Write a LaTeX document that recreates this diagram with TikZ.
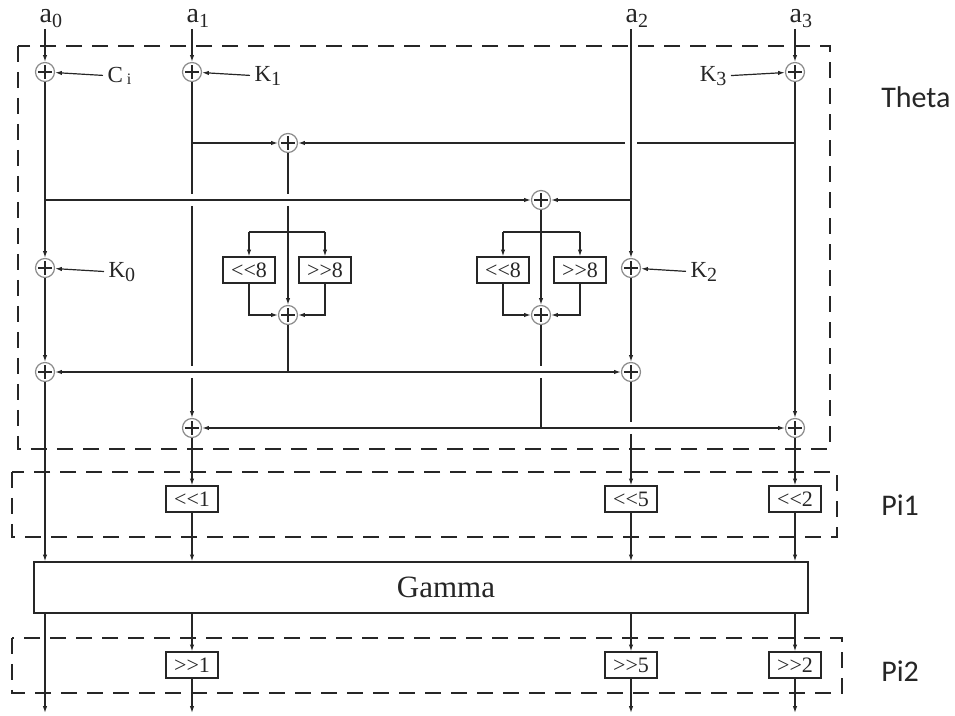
\documentclass[tikz,border=0pt]{standalone}
\usepackage{fontspec}
\setmainfont{Liberation Serif}
\newfontfamily\sidefont{Carlito}
\usetikzlibrary{arrows.meta,calc}
\newcommand{\lowsub}[2]{\raisebox{-#1}{\fontsize{10}{10}\selectfont #2}}

\begin{document}
\begin{tikzpicture}[
    x=0.5pt,y=-0.5pt,
    line width=0.6pt, color=black!85,
    a/.style={-{Latex[length=3.4pt,width=2.2pt]}},
    xor/.style={circle, draw=black!45, minimum size=9.5pt, inner sep=0pt,
      path picture={\draw[black!85, line width=0.6pt]
        (path picture bounding box.center) ++(-3.6pt,0) -- ++(7.2pt,0)
        (path picture bounding box.center) ++(0,-3.6pt) -- ++(0,7.2pt);}},
    sbox/.style={draw, minimum width=26pt, minimum height=13pt, inner sep=1pt,
                 font=\fontsize{11}{12}\selectfont},
    klab/.style={font=\fontsize{11.5}{12}\selectfont, inner sep=2pt},
    toplab/.style={font=\fontsize{14}{15}\selectfont, inner sep=0pt, anchor=base west},
    side/.style={font=\sidefont\fontsize{15}{17}\selectfont, anchor=west},
    frm/.style={dash pattern=on 8pt off 5pt}
]
\useasboundingbox (0,0) rectangle (955,716);

% Inputs
\node[toplab] (la0) at (39,23) {a\lowsub{2.5pt}{0}};
\node[toplab] (la1) at (186,23) {a\lowsub{2.5pt}{1}};
\node[toplab] (la2) at (625,23) {a\lowsub{2.5pt}{2}};
\node[toplab] (la3) at (789,23) {a\lowsub{2.5pt}{3}};
\coordinate (t0) at (45,29);
\coordinate (t1) at (192,29);
\coordinate (t2) at (631,29);
\coordinate (t3) at (795,29);

% Theta: xor nodes
\node[xor] (x0a) at (45,72) {};
\node[xor] (x1a) at (192,72) {};
\node[xor] (x3a) at (795,72) {};
\node[xor] (xm1) at (288,143) {};
\node[xor] (xm2) at (541,200) {};
\node[xor] (x0b) at (45,268) {};
\node[xor] (x2b) at (631,268) {};
\node[xor] (xs1) at (288,315) {};
\node[xor] (xs2) at (541,315) {};
\node[xor] (x0c) at (45,372) {};
\node[xor] (x2c) at (631,372) {};
\node[xor] (x1c) at (192,428) {};
\node[xor] (x3c) at (795,428) {};

% Keys
\node[klab, anchor=base west] (kc) at (103,83) {C\,\raisebox{-1pt}{\fontsize{8}{8}\selectfont i}};
\node[klab, anchor=base west] (k1) at (250,82) {K\lowsub{2pt}{1}};
\node[klab, anchor=base east] (k3) at (731,82) {K\lowsub{2pt}{3}};
\node[klab, anchor=base west] (k0) at (104,278) {K\lowsub{2pt}{0}};
\node[klab, anchor=base west] (k2) at (686,278) {K\lowsub{2pt}{2}};

% Rotations
\node[sbox] (sl1) at (249,270) {<{}<8};
\node[sbox] (sr1) at (325,270) {>{}>8};
\node[sbox] (sl2) at (503,270) {<{}<8};
\node[sbox] (sr2) at (580,270) {>{}>8};

% Junctions and crossings
\coordinate (h1) at (192,143);
\coordinate (h3) at (795,143);
\coordinate (g5) at (631,143);
\coordinate (h0) at (45,200);
\coordinate (h2) at (631,200);
\coordinate (g1a) at (192,200);
\coordinate (g2) at (288,200);
\coordinate (b1l) at (249,232);
\coordinate (b1r) at (325,232);
\coordinate (b2l) at (503,232);
\coordinate (b2r) at (580,232);
\coordinate (j1) at (288,372);
\coordinate (g1b) at (192,372);
\coordinate (g3) at (541,372);
\coordinate (j2) at (541,428);
\coordinate (g4) at (631,428);

% Pi1, Gamma, Pi2
\node[sbox] (pl1) at (192,499) {<{}<1};
\node[sbox] (pl5) at (631,499) {<{}<5};
\node[sbox] (pl2) at (795,499) {<{}<2};
\node[draw, minimum width=387pt, minimum height=25.5pt, inner sep=0pt,
      font=\fontsize{15.5}{16}\selectfont] (gamma) at (421,587.5) {\hspace{25pt}Gamma};
\node[sbox] (pr1) at (192,665) {>{}>1};
\node[sbox] (pr5) at (631,665) {>{}>5};
\node[sbox] (pr2) at (795,665) {>{}>2};
\coordinate (o0) at (45,713);
\coordinate (o1) at (192,713);
\coordinate (o2) at (631,713);
\coordinate (o3) at (795,713);

% Frames
\draw[frm] (18,46) rectangle (830,449);
\draw[frm] (12,472) rectangle (837,537);
\draw[frm] (12,638) rectangle (842,693);
\node[side] (theta) at (874,97) {Theta};
\node[side] (pi1) at (874,505) {Pi1};
\node[side] (pi2) at (874,671) {Pi2};

% key inputs
\draw[a] (kc) -- (x0a);
\draw[a] (k1) -- (x1a);
\draw[a] (k3) -- (x3a);
\draw[a] (k0) -- (x0b);
\draw[a] (k2) -- (x2b);

% column a0
\draw[a] (t0) -- (x0a);
\draw[a] (x0a) -- (x0b);
\draw[a] (x0b) -- (x0c);
\draw[a] (x0c) -- (x0c |- gamma.north);
\draw[a] (gamma.south -| o0) -- (o0);

% column a1
\draw[a] (t1) -- (x1a);
\draw[shorten >=3pt] (x1a) -- (g1a);
\draw[shorten <=3pt, shorten >=3pt] (g1a) -- (g1b);
\draw[a, shorten <=3pt] (g1b) -- (x1c);
\draw[a] (x1c) -- (pl1);
\draw[a] (pl1) -- (pl1 |- gamma.north);
\draw[a] (gamma.south -| pr1) -- (pr1);
\draw[a] (pr1) -- (o1);

% column a2
\draw[a] (t2) -- (x2b);
\draw[a] (x2b) -- (x2c);
\draw[shorten >=3pt] (x2c) -- (g4);
\draw[a, shorten <=3pt] (g4) -- (pl5);
\draw[a] (pl5) -- (pl5 |- gamma.north);
\draw[a] (gamma.south -| pr5) -- (pr5);
\draw[a] (pr5) -- (o2);

% column a3
\draw[a] (t3) -- (x3a);
\draw[a] (x3a) -- (x3c);
\draw[a] (x3c) -- (pl2);
\draw[a] (pl2) -- (pl2 |- gamma.north);
\draw[a] (gamma.south -| pr2) -- (pr2);
\draw[a] (pr2) -- (o3);

% theta mixing
\draw[a] (h1) -- (xm1);
\draw[shorten >=3pt] (h3) -- (g5);
\draw[a, shorten <=3pt] (g5) -- (xm1);
\draw[a] (h0) -- (xm2);
\draw[a] (h2) -- (xm2);

\draw[shorten >=3pt] (xm1) -- (g2);
\draw[a, shorten <=3pt] (g2) -- (xs1);
\draw (b1l) -- (b1r);
\draw[a] (b1l) -- (sl1);
\draw[a] (b1r) -- (sr1);
\draw[a] (sl1.south) |- (xs1);
\draw[a] (sr1.south) |- (xs1);

\draw[a] (xm2) -- (xs2);
\draw (b2l) -- (b2r);
\draw[a] (b2l) -- (sl2);
\draw[a] (b2r) -- (sr2);
\draw[a] (sl2.south) |- (xs2);
\draw[a] (sr2.south) |- (xs2);

\draw (xs1) -- (j1);
\draw[a] (j1) -- (x0c);
\draw[a] (j1) -- (x2c);
\draw[shorten >=3pt] (xs2) -- (g3);
\draw[shorten <=3pt] (g3) -- (j2);
\draw[a] (j2) -- (x1c);
\draw[a] (j2) -- (x3c);
\end{tikzpicture}
\end{document}
